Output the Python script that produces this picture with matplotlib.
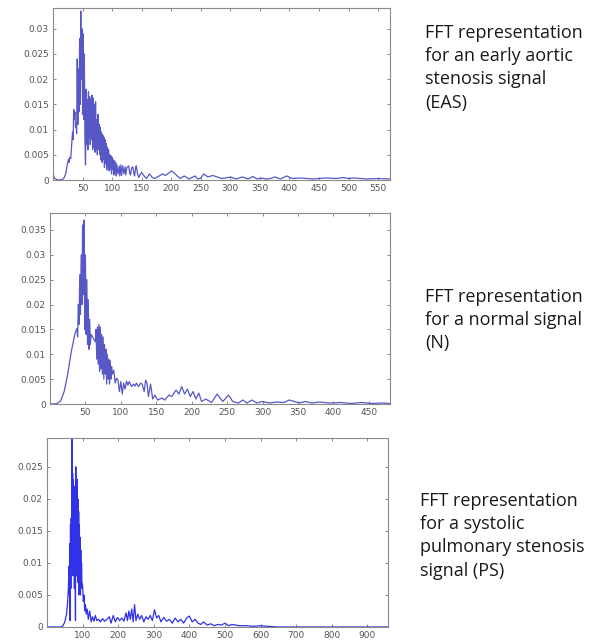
"""FFT spectra of three heart-sound recordings with side captions."""

import matplotlib

matplotlib.use("Agg")

import matplotlib.pyplot as plt
from matplotlib.ticker import FuncFormatter

# Early aortic stenosis (EAS) spectrum, ten points per row
eas_freq = [0, 1, 3, 6, 10, 15, 18, 20, 22, 24,
            26, 27, 28, 30, 31, 33, 34, 35, 36, 37,
            38, 39, 40, 41, 42, 43, 44, 45, 46, 47,
            48, 49, 50, 51, 52, 53, 54, 55, 56, 57,
            58, 59, 60, 61, 62, 63, 64, 65, 66, 67,
            68, 69, 70, 71, 72, 73, 74, 75, 76, 77,
            78, 79, 80, 81, 82, 83, 84, 85, 86, 87,
            88, 89, 90, 91, 92, 93, 94, 95, 96, 97,
            98, 99, 100, 101, 102, 103, 104, 105, 106, 107,
            108, 110, 112, 113, 115, 116, 118, 120, 122, 123,
            125, 128, 130, 131, 133, 135, 137, 138, 140, 141,
            143, 145, 148, 150, 154, 158, 163, 168, 172, 178,
            185, 190, 196, 200, 205, 210, 215, 222, 230, 240,
            245, 250, 255, 262, 270, 278, 285, 292, 300, 310,
            320, 330, 338, 345, 352, 360, 368, 375, 385, 395,
            405, 420, 440, 460, 480, 490, 500, 510, 530, 550,
            570]
eas_amp = [0.0002, 0.0009, 0.0003, 0.0001, 0.0, 0.0001, 0.0003, 0.0008, 0.0015, 0.003,
           0.004, 0.0035, 0.0045, 0.0042, 0.006, 0.0095, 0.008, 0.014, 0.012, 0.0135,
           0.0105, 0.011, 0.0092, 0.024, 0.011, 0.022, 0.0135, 0.028, 0.015, 0.0335,
           0.02, 0.03, 0.013, 0.029, 0.012, 0.025, 0.008, 0.003, 0.018, 0.007,
           0.016, 0.006, 0.0175, 0.0085, 0.0165, 0.007, 0.016, 0.008, 0.0168, 0.006,
           0.0162, 0.0065, 0.015, 0.0055, 0.0155, 0.006, 0.012, 0.005, 0.013, 0.006,
           0.011, 0.005, 0.0105, 0.004, 0.0095, 0.0035, 0.009, 0.004, 0.0085, 0.0025,
           0.008, 0.0032, 0.0072, 0.002, 0.0065, 0.0028, 0.006, 0.0018, 0.005, 0.0022,
           0.0048, 0.0012, 0.0045, 0.002, 0.004, 0.001, 0.0038, 0.0015, 0.0035, 0.0008,
           0.003, 0.0012, 0.0028, 0.0008, 0.003, 0.0009, 0.0028, 0.0012, 0.0026, 0.001,
           0.0025, 0.0028, 0.0012, 0.001, 0.0024, 0.0026, 0.0012, 0.0008, 0.0026, 0.0028,
           0.0012, 0.0005, 0.0012, 0.0015, 0.0008, 0.0003, 0.0012, 0.0005, 0.0003, 0.0007,
           0.0012, 0.0009, 0.0014, 0.0018, 0.0014, 0.0008, 0.0003, 0.0008, 0.0002, 0.0008,
           0.0002, 0.0004, 0.0012, 0.0006, 0.0009, 0.0006, 0.0003, 0.0004, 0.0006, 0.0002,
           0.0006, 0.0002, 0.0007, 0.0002, 0.0004, 0.0002, 0.0003, 0.0006, 0.0002, 0.0008,
           0.0003, 0.0004, 0.0002, 0.0004, 0.0003, 0.0005, 0.0003, 0.0004, 0.0002, 0.0003,
           0.0002]

# Normal (N) spectrum
n_freq = [0, 5, 10, 15, 20, 25, 30, 35, 38, 39,
          40, 41, 42, 43, 44, 45, 46, 47, 48, 49,
          50, 51, 52, 53, 54, 55, 56, 57, 58, 60,
          62, 64, 65, 66, 67, 68, 69, 70, 71, 72,
          73, 74, 75, 76, 77, 78, 79, 80, 81, 82,
          83, 84, 85, 86, 87, 88, 90, 92, 94, 96,
          98, 100, 102, 104, 106, 108, 110, 112, 115, 118,
          120, 122, 125, 128, 130, 133, 135, 137, 139, 142,
          145, 148, 152, 158, 162, 168, 172, 175, 178, 182,
          186, 190, 194, 198, 202, 206, 210, 214, 220, 228,
          236, 244, 252, 258, 266, 272, 278, 285, 292, 300,
          310, 320, 330, 338, 345, 352, 360, 370, 380, 395,
          410, 425, 440, 455, 470, 480]
n_amp = [0.0, 0.0, 0.0001, 0.0006, 0.0025, 0.006, 0.0105, 0.014, 0.0152, 0.0135,
         0.02, 0.016, 0.026, 0.018, 0.030, 0.020, 0.036, 0.022, 0.037, 0.015,
         0.030, 0.014, 0.025, 0.012, 0.021, 0.011, 0.017, 0.012, 0.014, 0.0135,
         0.013, 0.0125, 0.015, 0.009, 0.0155, 0.008, 0.016, 0.0065, 0.0155, 0.007,
         0.014, 0.006, 0.0135, 0.005, 0.012, 0.006, 0.011, 0.004, 0.010, 0.005,
         0.009, 0.004, 0.0088, 0.005, 0.0075, 0.006, 0.0068, 0.0042, 0.0052, 0.0048,
         0.0025, 0.0045, 0.002, 0.0042, 0.003, 0.0046, 0.0038, 0.0045, 0.0035, 0.004,
         0.0036, 0.0042, 0.0035, 0.0042, 0.004, 0.0025, 0.0048, 0.0042, 0.0015, 0.004,
         0.001, 0.0018, 0.0008, 0.0012, 0.0008, 0.0018, 0.0015, 0.0022, 0.0028, 0.002,
         0.0035, 0.002, 0.003, 0.0015, 0.0025, 0.001, 0.0022, 0.0005, 0.001, 0.0003,
         0.002, 0.0005, 0.0018, 0.0005, 0.0002, 0.0008, 0.0002, 0.0008, 0.0002, 0.0005,
         0.0002, 0.0004, 0.0003, 0.0008, 0.0005, 0.0002, 0.0005, 0.0002, 0.0004, 0.0002,
         0.0003, 0.0001, 0.0003, 0.0001, 0.0002, 0.0001]

# Systolic pulmonary stenosis (PS) spectrum
ps_freq = [0, 20, 40, 45, 50, 55, 58, 60, 62, 63,
           64, 65, 66, 67, 68, 69, 70, 71, 72, 73,
           74, 75, 76, 77, 78, 79, 80, 81, 82, 83,
           84, 85, 86, 87, 88, 89, 90, 91, 92, 93,
           94, 95, 96, 97, 98, 100, 102, 104, 106, 108,
           110, 113, 116, 120, 124, 128, 132, 136, 140, 145,
           150, 156, 162, 168, 175, 180, 186, 192, 198, 204,
           210, 216, 222, 226, 230, 234, 238, 242, 246, 250,
           255, 260, 266, 272, 278, 284, 290, 296, 302, 308,
           314, 320, 328, 336, 344, 352, 360, 368, 376, 384,
           392, 400, 408, 416, 424, 432, 440, 450, 460, 470,
           480, 490, 500, 510, 520, 540, 560, 580, 600, 620,
           650, 700, 800, 960]
ps_amp = [0.0, 0.0, 0.0, 0.0002, 0.0008, 0.002, 0.004, 0.006, 0.0095, 0.005,
          0.013, 0.001, 0.016, 0.006, 0.017, 0.009, 0.030, 0.014, 0.024, 0.008,
          0.023, 0.012, 0.021, 0.006, 0.022, 0.010, 0.001, 0.025, 0.008, 0.023,
          0.012, 0.023, 0.007, 0.020, 0.010, 0.018, 0.005, 0.016, 0.006, 0.014,
          0.005, 0.012, 0.006, 0.010, 0.007, 0.0065, 0.004, 0.005, 0.0025, 0.0035,
          0.002, 0.0028, 0.0012, 0.0025, 0.0008, 0.0016, 0.0009, 0.0018, 0.001, 0.0012,
          0.0008, 0.0013, 0.0009, 0.0012, 0.0016, 0.0006, 0.0018, 0.0008, 0.0015, 0.001,
          0.0014, 0.0009, 0.0022, 0.001, 0.0025, 0.0012, 0.0028, 0.0008, 0.0035, 0.001,
          0.002, 0.0012, 0.0018, 0.0008, 0.0016, 0.0012, 0.0018, 0.001, 0.0027, 0.0014,
          0.0018, 0.0008, 0.0015, 0.0009, 0.0012, 0.0006, 0.0014, 0.0008, 0.0012, 0.0006,
          0.0014, 0.0017, 0.0008, 0.0012, 0.0006, 0.0004, 0.0008, 0.0003, 0.0005, 0.0002,
          0.0004, 0.0003, 0.0006, 0.0002, 0.0004, 0.0002, 0.0002, 0.0001, 0.0002, 0.0001,
          0.0, 0.0, 0.0, 0.0]

eas_xticks = [50, 100, 150, 200, 250, 300, 350, 400, 450, 500, 550]
eas_yticks = [0, 0.005, 0.01, 0.015, 0.02, 0.025, 0.03]
n_xticks = [50, 100, 150, 200, 250, 300, 350, 400, 450]
n_yticks = [0, 0.005, 0.01, 0.015, 0.02, 0.025, 0.03, 0.035]
ps_xticks = [100, 200, 300, 400, 500, 600, 700, 800, 900]
ps_yticks = [0, 0.005, 0.01, 0.015, 0.02, 0.025]

captions = [
    "FFT representation\nfor an early aortic\nstenosis signal\n(EAS)",
    "FFT representation\nfor a normal signal\n(N)",
    "FFT representation\nfor a systolic\npulmonary stenosis\nsignal (PS)",
]

W, H = 594, 641


def _rect(left, top, right, bottom):
    return [left / W, 1 - bottom / H, (right - left) / W, (bottom - top) / H]


def _style(ax, xlim, ylim, xticks, yticks):
    ax.set_xlim(*xlim)
    ax.set_ylim(*ylim)
    ax.set_xticks(xticks)
    ax.set_yticks(yticks)
    ax.yaxis.set_major_formatter(FuncFormatter(lambda v, _: f"{v:g}"))
    ax.tick_params(direction="in", top=True, right=True, length=2.5, width=0.6,
                   labelsize=6.5, labelcolor="#555555", color="#777777", pad=3)
    for spine in ax.spines.values():
        spine.set_color("#8a8a8a")
        spine.set_linewidth(0.8)


fig = plt.figure(figsize=(W / 100, H / 100), dpi=100)

panels = [
    (eas_freq, eas_amp, _rect(53, 8, 390, 180), (0, 570), (0, 0.0341), eas_xticks, eas_yticks, "#4545c0"),
    (n_freq, n_amp, _rect(50, 213, 390, 404), (0, 480), (0, 0.0384), n_xticks, n_yticks, "#4545c0"),
    (ps_freq, ps_amp, _rect(47, 438, 388, 627), (0, 958), (0, 0.0295), ps_xticks, ps_yticks, "#1a1ae6"),
]

for freq, amp, rect, xlim, ylim, xticks, yticks, color in panels:
    ax = fig.add_axes(rect)
    ax.plot(freq, amp, color=color, linewidth=0.9, alpha=0.9)
    _style(ax, xlim, ylim, xticks, yticks)

caption_pos = [(425, 24), (425, 288), (420, 492)]
for (cx, cy), text in zip(caption_pos, captions):
    fig.text(cx / W, 1 - cy / H, text, ha="left", va="top", fontsize=13,
             family="Open Sans", color="#1a1a1a", linespacing=1.37)

fig.savefig("out.png", dpi=100)
